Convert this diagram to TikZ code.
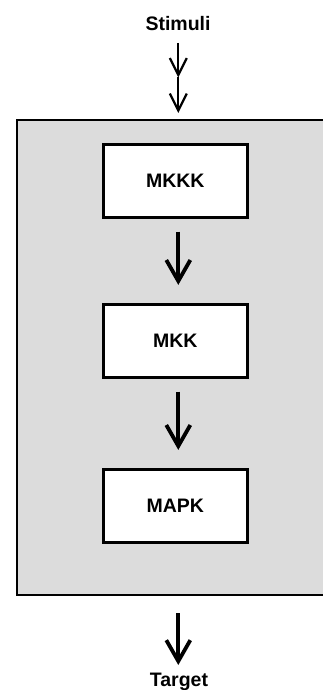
\documentclass[tikz,border=0pt]{standalone}
\usepackage{fontspec}
\setmainfont{Liberation Sans}
\usetikzlibrary{arrows.meta}
\definecolor{panelgray}{RGB}{220,220,220}
\begin{document}
\begin{tikzpicture}[x=1pt,y=-1pt,
  lbl/.style={font=\fontsize{19.5}{23}\selectfont\bfseries, inner sep=0pt},
  kbox/.style={draw, line width=3.3pt, fill=white, minimum width=144pt, minimum height=73pt, inner sep=0pt, font=\fontsize{19.5}{23}\selectfont\bfseries},
  thinarr/.style={line width=2.2pt, -{Straight Barb[length=17pt, width=17pt, line width=2.2pt]}},
  thickarr/.style={line width=3.8pt, -{Straight Barb[length=21pt, width=24pt, line width=3.8pt]}}]
\useasboundingbox (0,0) rectangle (322,690);
\fill[white] (0,0) rectangle (322,690);
\draw[fill=panelgray, line width=2.6pt] (17,120) rectangle (340,595);
\node[kbox] (mkkk) at (175.3,181) {MKKK};
\node[kbox] (mkk) at (175.3,341) {MKK};
\node[kbox] (mapk) at (175.3,506) {MAPK};
\node[lbl, anchor=base] (stim) at (178,31) {Stimuli};
\node[lbl, anchor=base] (target) at (179,686) {Target};
\coordinate (s1) at (178.3,43);
\coordinate (mid) at (178.3,77.5);
\coordinate (s2) at (178.3,113);
\coordinate (t1) at (178.3,613);
\coordinate (t2) at (178.3,665);
\draw[thinarr] (s1) -- (mid);
\draw[thinarr] (mid) -- (s2);
\draw[thickarr, shorten <=12.5pt, shorten >=18pt] ([xshift=3pt]mkkk.south) -- ([xshift=3pt]mkk.north);
\draw[thickarr, shorten <=12.5pt, shorten >=18pt] ([xshift=3pt]mkk.south) -- ([xshift=3pt]mapk.north);
\draw[thickarr] (t1) -- (t2);
\end{tikzpicture}
\end{document}
